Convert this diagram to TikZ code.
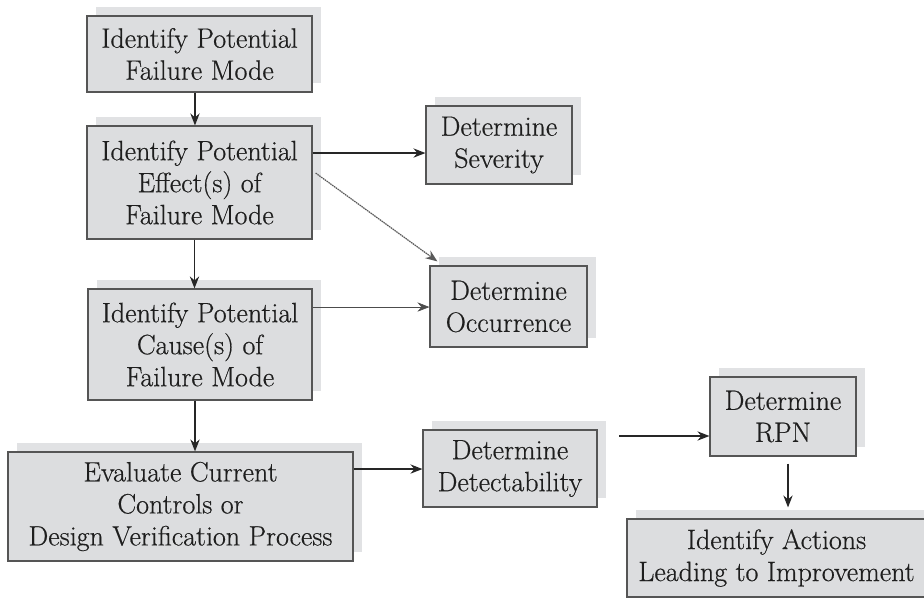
\documentclass[tikz,border=0pt]{standalone}
\usepackage{fontspec}
\setmainfont{Latin Modern Roman}[FakeBold=0.5]
\usetikzlibrary{arrows.meta,shadows}
\definecolor{boxfill}{RGB}{220,221,223}
\definecolor{shadowfill}{RGB}{225,226,228}
\definecolor{boxline}{RGB}{85,85,85}
\definecolor{txt}{RGB}{30,30,30}
\begin{document}
\begin{tikzpicture}[x=0.75pt,y=-0.75pt,
  box/.style={draw=boxline, line width=0.9pt, fill=boxfill, text=txt, align=center,
    inner sep=0pt, font=\fontsize{21pt}{24pt}\selectfont,
    general shadow={fill=shadowfill, shadow xshift=6.5pt, shadow yshift=6.5pt}},
  arr/.style={-{Stealth[length=9pt,width=7pt,inset=3pt]}, line width=0.9pt, black!85},
  thinarr/.style={-{Stealth[length=9pt,width=7pt,inset=3pt]}, line width=0.45pt, black!70},
  diagarr/.style={-{Stealth[length=9pt,width=7pt,inset=3pt]}, line width=0.9pt, black!65, dash pattern=on 1.2pt off 0.5pt}]
\useasboundingbox (0,0) rectangle (924,599);
\clip (0,0) rectangle (924,599);

\node[box, minimum width=168.75pt, minimum height=57pt] (b1) at (199.5,54) {Identify Potential\\Failure Mode};
\node[box, minimum width=168.75pt, minimum height=84.75pt] (b2) at (199.5,182.5) {Identify Potential\\Effect(s) of\\Failure Mode};
\node[box, minimum width=168pt, minimum height=83.25pt] (b3) at (200,344.5) {Identify Potential\\Cause(s) of\\Failure Mode};
\node[box, minimum width=258.75pt, minimum height=81.75pt] (ev) at (180.5,506.5) {Evaluate Current\\Controls or\\Design Verification Process};
\node[box, minimum width=109.5pt, minimum height=58.5pt] (sev) at (499,145) {Determine\\Severity};
\node[box, minimum width=117.75pt, minimum height=60.75pt] (occ) at (508.5,306.5) {Determine\\Occurrence};
\node[box, minimum width=130.5pt, minimum height=57.75pt] (det) at (510,468.5) {Determine\\Detectability};
\node[box, minimum width=109.5pt, minimum height=59.25pt] (rpn) at (783,416.5) {Determine\\RPN};
\node[box, minimum width=224.25pt, minimum height=58.5pt] (act) at (776.5,558) {Identify Actions\\Leading to Improvement};

\draw[arr] ([xshift=-3.4pt]b1.south) -- ([xshift=-3.4pt]b2.north);
\draw[arr] ([xshift=-3.75pt]b2.south) -- ([xshift=-3.75pt]b2.south |- b3.north);
\draw[arr] ([xshift=-3.75pt]b3.south) -- ([xshift=-3.75pt]b3.south |- ev.north);
\draw[arr] ([yshift=22.1pt]b2.east) -- ([yshift=22.1pt]b2.east -| sev.west);
\draw[diagarr] ([xshift=2.25pt,yshift=7.1pt]b2.east) -- ([xshift=6pt,yshift=3pt]occ.north west);
\draw[thinarr] ([yshift=28.1pt]b3.east) -- ([yshift=28.1pt]b3.east -| occ.west);
\draw[arr] ([yshift=28.1pt]ev.east) -- ([yshift=28.1pt]ev.east -| det.west);
\coordinate (fa) at (619,436);
\draw[arr] (fa) -- (fa -| rpn.west);
\draw[arr] ([xshift=3.75pt,yshift=-5.25pt]rpn.south) -- ([xshift=3.75pt,yshift=8.25pt]rpn.south |- act.north);
\end{tikzpicture}
\end{document}
